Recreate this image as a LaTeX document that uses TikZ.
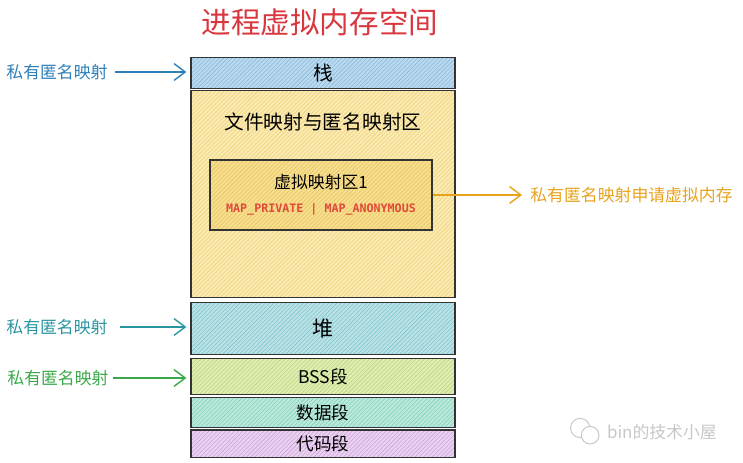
\documentclass[tikz,border=0pt]{standalone}
\usepackage{fontspec}
\setmainfont{Noto Sans CJK SC}
\newfontfamily\mapfont{DejaVu Sans Mono}
\usetikzlibrary{arrows.meta, positioning, patterns}

\definecolor{titlered}{HTML}{D9363E}
\definecolor{mapred}{HTML}{E04A3A}
\definecolor{lblblue}{HTML}{2E7FB8}
\definecolor{lblteal}{HTML}{2A95A0}
\definecolor{lblgreen}{HTML}{3AA84A}
\definecolor{lblorange}{HTML}{E8A21C}
\definecolor{edge}{HTML}{333333}
\definecolor{stackfill}{HTML}{BCDAEE}
\definecolor{stackhatch}{HTML}{88B8DE}
\definecolor{areafill}{HTML}{FAEBB2}
\definecolor{areahatch}{HTML}{F0D17A}
\definecolor{vmafill}{HTML}{F7DF92}
\definecolor{vmahatch}{HTML}{E9C35A}
\definecolor{heapfill}{HTML}{BCE2E6}
\definecolor{heaphatch}{HTML}{7CC6CE}
\definecolor{bssfill}{HTML}{E0EDB4}
\definecolor{bsshatch}{HTML}{BBD778}
\definecolor{datafill}{HTML}{BDE9DC}
\definecolor{datahatch}{HTML}{80D2BE}
\definecolor{codefill}{HTML}{EBD2F0}
\definecolor{codehatch}{HTML}{CCA4DC}

\begin{document}
\begin{tikzpicture}[
  seg/.style 2 args={rectangle, draw=edge, line width=0.9pt, minimum width=6.6cm, inner sep=0pt,
    preaction={fill=#1}, preaction={pattern=north east lines, pattern color=#2}},
  lbl/.style={font=\fontsize{12}{14}\selectfont, inner sep=0.1cm},
  arrowstyle/.style={-{Straight Barb[length=2.8mm, width=4.2mm]}, line width=1pt, shorten <=0.08cm, shorten >=0.1cm}
]
\useasboundingbox (0,0) rectangle (18.575,-11.575);

\node[text=titlered, font=\fontsize{21}{24}\selectfont] (title) at (8.0,-0.55) {进程虚拟内存空间};

% memory segments, top to bottom
\node[seg={stackfill}{stackhatch}, minimum height=0.77cm, font=\fontsize{14}{16}\selectfont] (stack) at (8.075,-1.825) {栈};
\node[seg={areafill}{areahatch}, minimum height=5.17cm, below=0.025cm of stack] (area) {};
\node[font=\fontsize{14}{16}\selectfont, below=0.45cm of area.north] (areatitle) {文件映射与匿名映射区};
\node[seg={vmafill}{vmahatch}, minimum width=5.55cm, minimum height=1.75cm, align=center] (vma) at (8.025,-4.875)
  {\fontsize{12}{14}\selectfont 虚拟映射区1\\[5pt] {\mapfont\bfseries\fontsize{8.3}{10}\selectfont\color{mapred} MAP\_PRIVATE | MAP\_ANONYMOUS}};
\node[seg={heapfill}{heaphatch}, minimum height=1.295cm, below=0.1cm of area, font=\fontsize{15}{17}\selectfont] (heap) {堆};
\node[seg={bssfill}{bsshatch}, minimum height=0.895cm, below=0.075cm of heap, font=\fontsize{12.5}{15}\selectfont] (bss) {BSS段};
\node[seg={datafill}{datahatch}, minimum height=0.745cm, below=0.05cm of bss, font=\fontsize{12.5}{15}\selectfont] (data) {数据段};
\node[seg={codefill}{codehatch}, minimum height=0.695cm, below=0.025cm of data, font=\fontsize{12.5}{15}\selectfont] (code) {代码段};

% labels
\node[lbl, text=lblblue] (lblstack) at (1.425,-1.8) {私有匿名映射};
\node[lbl, text=lblteal] (lblheap) at (1.425,-8.175) {私有匿名映射};
\node[lbl, text=lblgreen] (lblbss) at (1.45,-9.45) {私有匿名映射};
\node[lbl, text=lblorange, anchor=west] (lblvma) at (13.15,-4.875) {私有匿名映射申请虚拟内存};

\draw[arrowstyle, lblblue] (lblstack.east) -- (lblstack.east -| stack.west);
\draw[arrowstyle, lblteal, shorten <=0.2cm] (lblheap.east) -- (lblheap.east -| heap.west);
\draw[arrowstyle, lblgreen, shorten <=0cm] (lblbss.east) -- (lblbss.east -| bss.west);
\draw[arrowstyle, lblorange, shorten <=0cm] (vma.east) -- (lblvma.west);

% watermark
\node[text=black!22, font=\fontsize{12}{14}\selectfont] (wmark) at (16.55,-10.8) {bin的技术小屋};
\draw[black!22, line width=0.7pt] ([xshift=-0.55cm, yshift=0.1cm]wmark.west) circle (0.24cm);
\draw[black!22, line width=0.7pt, fill=white] ([xshift=-0.3cm, yshift=-0.08cm]wmark.west) circle (0.22cm);
\end{tikzpicture}
\end{document}
